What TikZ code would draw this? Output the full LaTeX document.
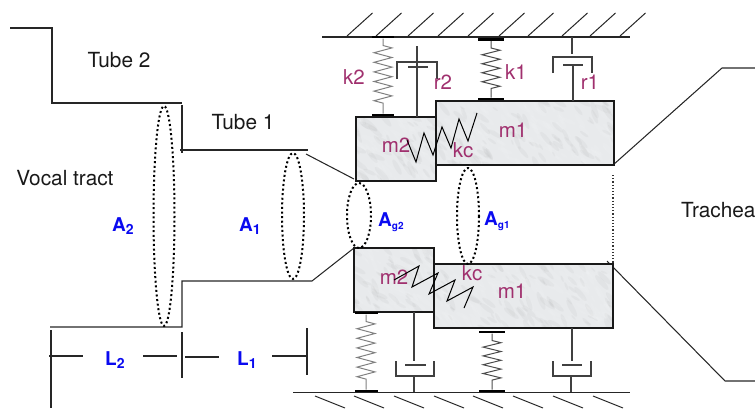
\documentclass[tikz,border=0pt]{standalone}
\usepackage{xcolor}
\usepackage{fontspec}
\setmainfont{TeX Gyre Heros}
\usetikzlibrary{decorations.pathmorphing}
\colorlet{linecolor}{black!85}
\definecolor{labelcolor}{RGB}{160, 48, 110}
\definecolor{areacolor}{RGB}{10, 10, 240}
\definecolor{marblecolor}{RGB}{232, 234, 236}
\newcommand{\subtext}[2]{\raisebox{-3pt}{\fontsize{#1}{#1}\selectfont #2}}
\tikzset{
        wall/.style={linecolor, line width=1.05pt},
        plate/.style={fill=black, inner sep=0pt, minimum height=2.6pt},
        massbox/.style={draw=black!90, line width=1.05pt, inner sep=0pt, fill=marblecolor,
                path picture={
                        \pgfmathsetseed{#1}
                        \foreach \i in {1,...,260} {
                                \pgfmathsetmacro{\px}{rand*90}
                                \pgfmathsetmacro{\py}{rand*33}
                                \pgfmathsetmacro{\pr}{rnd*4+1.5}
                                \pgfmathsetmacro{\pa}{rnd*50-70}
                                \pgfmathparse{rnd>.35 ? "white" : "black!40"}
                                \edef\pc{\pgfmathresult}
                                \fill[\pc, opacity=.08] (path picture bounding box.center) ++(\px,\py)
                                        ellipse [x radius=\pr*1.8, y radius=\pr*.5, rotate=\pa];
                        }
                }},
        springline/.style={black!#1, line width=1pt, decorate,
                decoration={zigzag, segment length=9.6pt, amplitude=9pt, pre length=7pt, post length=7pt}},
        damperline/.style={black!75, line width=1.05pt},
        arealoop/.style={black, line width=2pt, dash pattern=on 2pt off 2.6pt},
        tubetext/.style={font=\fontsize{20.8}{21}\selectfont, text=black!90, inner sep=0pt},
        masstext/.style={font=\fontsize{20.5}{21}\selectfont, text=labelcolor, inner sep=0pt},
        areatext/.style={font=\fontsize{19}{19}\selectfont\bfseries, text=areacolor, inner sep=0pt, anchor=west},
}

\begin{document}
\begin{tikzpicture}[x=1pt, y=-1pt]
        \useasboundingbox (0, 0) rectangle (755, 408);

        % Walls
        \draw[wall] (322, 37) -- (630, 37);
        \draw[wall] (293, 392.5) -- (630, 392.5);
        \foreach \x in {347, 376, 408, 438, 468, 499, 528, 562, 590, 620}
                \draw[linecolor, line width=1pt] (\x, 36) -- +(25.5, -23);
        \foreach \x in {315, 354, 394, 434, 473, 513, 553, 593}
                \draw[linecolor, line width=1pt] (\x, 396) -- +(30, 12);

        % Vocal tract
        \draw[wall] (10, 28) -- (52, 28) -- (52, 103) -- (182, 103);
        \draw[wall] (182, 105) -- (182, 153);
        \draw[wall] (180, 150) -- (308, 150);
        \draw[wall] (306, 154) -- (354, 179);
        \draw[wall] (50, 327) -- (182, 327) -- (182, 281) -- (312, 281) -- (354, 248);

        % Trachea
        \draw[wall] (613, 165) -- (722, 68) -- (755, 68);
        \draw[wall] (607, 261) -- (725, 381) -- (755, 381);
        \draw[black!80, line width=1.2pt, dotted] (613, 175) -- (613, 264);

        % Masses
        \node[massbox=11, minimum width=178pt, minimum height=64pt] (m1up) at (525, 133) {};
        \node[massbox=12, minimum width=80pt, minimum height=64pt] (m2up) at (396, 149) {};
        \node[massbox=13, minimum width=179pt, minimum height=64pt] (m1low) at (523.5, 296) {};
        \node[massbox=14, minimum width=80pt, minimum height=64pt] (m2low) at (394, 280) {};

        % Springs
        \node[plate, minimum width=22pt] (k2top) at (383, 37) {};
        \node[plate, minimum width=22pt] (k2bot) at (383, 115) {};
        \node[plate, minimum width=26pt] (k1top) at (491, 39.5) {};
        \node[plate, minimum width=26pt] (k1bot) at (491, 99) {};
        \node[plate, minimum width=23pt] (k3top) at (366, 313) {};
        \node[plate, minimum width=23pt] (k3bot) at (366, 391) {};
        \node[plate, minimum width=26pt] (k4top) at (492, 332) {};
        \node[plate, minimum width=26pt] (k4bot) at (492, 391) {};
        \draw[springline=50] (k2top) -- (k2bot);
        \draw[springline=70, decoration={segment length=9pt}] (k1top) -- (k1bot);
        \draw[springline=50] (k3top) -- (k3bot);
        \draw[springline=70, decoration={segment length=8.8pt}] (k4top) -- (k4bot);

        % Dampers
        \coordinate (r2top) at (417, 46);
        \coordinate (r2bot) at (417, 117);
        \draw[damperline] (r2top) -- (r2bot);
        \draw[damperline] (397, 79) -- (397, 62) -- (437, 62) -- (437, 79);
        \draw[damperline] (408, 67) -- (428, 67);

        \coordinate (r1top) at (572, 37);
        \coordinate (r1bot) at (573, 101);
        \draw[damperline] (r1top) -- (572, 54);
        \draw[damperline] (553, 73) -- (553, 57) -- (592, 57) -- (592, 73);
        \draw[damperline] (563, 65) -- (583, 65);
        \draw[damperline] (573, 65) -- (r1bot);

        \coordinate (r3top) at (414, 312);
        \coordinate (r3bot) at (414, 392);
        \draw[damperline] (r3top) -- (414, 361);
        \draw[damperline] (405, 365) -- (426, 365);
        \draw[damperline] (396, 361) -- (396, 376) -- (434, 376) -- (434, 361);
        \draw[damperline] (414, 376) -- (r3bot);

        \coordinate (r4top) at (572, 328);
        \coordinate (r4bot) at (571, 392);
        \draw[damperline] (r4top) -- (572, 361);
        \draw[damperline] (562, 365) -- (582, 365);
        \draw[damperline] (553, 361) -- (553, 376) -- (591, 376) -- (591, 361);
        \draw[damperline] (571, 376) -- (r4bot);

        % Area loops
        \draw[arealoop] (164, 216) ellipse [x radius=10.5, y radius=110];
        \draw[arealoop] (293, 216) ellipse [x radius=11, y radius=63];
        \draw[arealoop] (359, 215.5) ellipse [x radius=12, y radius=32.5];
        \draw[arealoop] (468, 216) ellipse [x radius=11, y radius=48];

        % Length marks
        \draw[wall] (51, 330) -- (51, 408);
        \draw[wall] (182, 332) -- (182, 378);
        \draw[wall] (307, 328) -- (307, 375);
        \draw[wall] (49, 356) -- (83, 356) (143, 356) -- (177, 356);
        \draw[wall] (185, 357) -- (219, 357) (272, 356) -- (306, 356);

        % Labels
        \node[tubetext] (tube2) at (119, 60) {Tube 2};
        \node[tubetext] (tube1) at (243, 122) {Tube 1};
        \node[tubetext] (vocal) at (65, 178) {Vocal tract};
        \node[tubetext, anchor=west] (trachea) at (681, 210) {Trachea};
        \node[areatext] (a2) at (112, 226) {A\subtext{14}{2}};
        \node[areatext] (a1) at (239, 226) {A\subtext{14}{1}};
        \node[areatext] (ag2) at (378, 222) {A\subtext{10}{g2}};
        \node[areatext] (ag1) at (484, 221) {A\subtext{10}{g1}};
        \node[areatext] (l2) at (105, 360) {L\subtext{14}{2}};
        \node[areatext] (l1) at (237, 360) {L\subtext{14}{1}};
        \node[masstext] (k2text) at (354, 77) {k2};
        \node[masstext] (k1text) at (516, 72) {k1};
        \node[masstext] (r2text) at (443, 82) {r2};
        \node[masstext] (r1text) at (590, 82) {r1};
        \node[masstext] (m2uptext) at (396, 145) {m2};
        \node[masstext] (m1uptext) at (513, 130) {m1};
        \node[masstext] (kcuptext) at (463, 150) {kc};
        \node[masstext] (m2lowtext) at (394, 277) {m2};
        \node[masstext] (m1lowtext) at (512, 291) {m1};
        \node[masstext] (kclowtext) at (472, 273) {kc};

        % Coupling springs
        \draw[black, line width=1pt] (407, 140) -- (416, 162) -- (424, 133) -- (433, 155) -- (442, 127)
                -- (451, 148) -- (459, 119) -- (468, 141) -- (477, 113);
        \draw[black, line width=1pt] (394, 280) -- (419, 266) -- (412, 287) -- (438, 273) -- (429, 294)
                -- (455, 280) -- (447, 301) -- (473, 287) -- (464, 308);
\end{tikzpicture}
\end{document}
